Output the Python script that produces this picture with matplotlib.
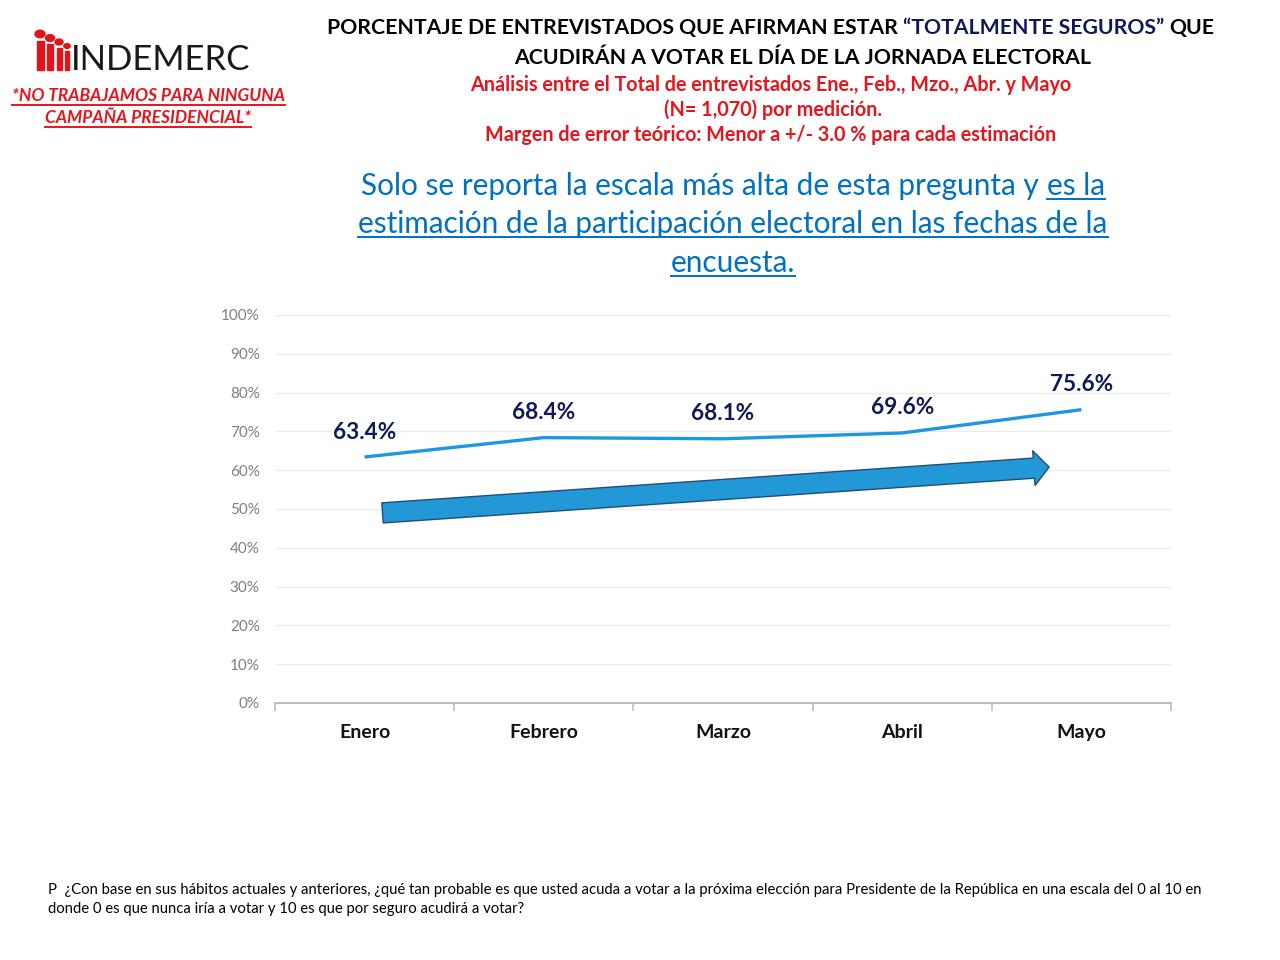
import matplotlib
matplotlib.use("Agg")
import matplotlib.pyplot as plt
from matplotlib.patches import FancyArrowPatch, Circle, Rectangle
from matplotlib.lines import Line2D

plt.rcParams['font.family'] = ['Lato', 'DejaVu Sans']

# ---------------- data ----------------
months = ["Enero", "Febrero", "Marzo", "Abril", "Mayo"]
values = [63.4, 68.4, 68.1, 69.6, 75.6]
labels = ["63.4%", "68.4%", "68.1%", "69.6%", "75.6%"]
yticks = [0, 10, 20, 30, 40, 50, 60, 70, 80, 90, 100]
ytick_labels = [f"{v}%" for v in yticks]
trend_start = (0.10, 49.0)
trend_end = (3.82, 60.8)

W, H = 1280, 960
fig = plt.figure(figsize=(12.8, 9.6), dpi=100)
fig.patch.set_facecolor("white")

NAVY = "#0d1a5a"
RED = "#e8141c"
BLUE_TXT = "#0070c0"
LINE_C = "#1f97dd"

def fx(x): return x / W
def fy(y): return 1 - y / H

# ---------------- axes ----------------
ax = fig.add_axes([fx(275), fy(703), (1171 - 275) / W, (703 - 315) / H])
x = list(range(len(months)))
ax.plot(x, values, color=LINE_C, lw=2.4, solid_capstyle="butt", zorder=3)
for xi, v, lab in zip(x, values, labels):
    ax.annotate(lab, (xi, v), xytext=(0, 18), textcoords="offset points",
                ha="center", va="center", fontsize=16.3, fontweight="bold",
                color=NAVY)
ax.set_xlim(-0.5, 4.5)
ax.set_ylim(0, 100)
ax.set_yticks(yticks)
ax.set_yticklabels(ytick_labels, color="#7f7f7f", fontsize=11)
ax.set_xticks(x)
ax.set_xticklabels(months, fontsize=14, fontweight="bold", color="#111111")
ax.set_xticks([i - 0.5 for i in range(len(months) + 1)], minor=True)
ax.tick_params(axis="y", length=0, pad=11)
ax.tick_params(axis="x", which="major", length=0, pad=15)
ax.tick_params(axis="x", which="minor", length=6, color="#bfbfbf", width=1.2)
ax.grid(axis="y", color="#ececec", lw=1)
ax.set_axisbelow(True)
for s in ["top", "right", "left"]:
    ax.spines[s].set_visible(False)
ax.spines["bottom"].set_color("#bfbfbf")
ax.spines["bottom"].set_linewidth(1.5)

arr = FancyArrowPatch(trend_start, trend_end,
                      arrowstyle="simple,tail_width=1.45,head_width=2.5,head_length=1.1",
                      mutation_scale=10, shrinkA=0, shrinkB=0,
                      facecolor="#2299d6", edgecolor="#1f4e79", lw=1.0, zorder=2)
ax.add_patch(arr)

# ---------------- text helpers ----------------
renderer = fig.canvas.get_renderer()

def width_of(s, **kw):
    t = fig.text(0, 0, s, **kw)
    w = t.get_window_extent(renderer).width
    t.remove()
    return w

def seg_line(segments, cx, y, **kw):
    """segments: list of (text, color, underline_flag). Centered at pixel cx, baseline y."""
    sp = width_of("a a", **kw) - width_of("aa", **kw)
    widths = [width_of(s, **kw) for s, _, _ in segments]
    total = sum(widths) + sp * (len(segments) - 1)
    xpos = cx - total / 2
    for (s, c, ul), w in zip(segments, widths):
        fig.text(fx(xpos), fy(y), s, color=c, ha="left", va="baseline", **kw)
        if ul:
            fig.add_artist(Line2D([fx(xpos), fx(xpos + w)], [fy(y + 4), fy(y + 4)],
                                  color=c, lw=1.4, transform=fig.transFigure))
        xpos += w + sp

# ---------------- titles ----------------
tkw = dict(fontsize=15.3, fontweight="bold")
seg_line([("PORCENTAJE DE ENTREVISTADOS QUE AFIRMAN ESTAR", "black", False),
          ("“TOTALMENTE SEGUROS”", NAVY, False),
          ("QUE", "black", False)], 771, 34, **tkw)
seg_line([("ACUDIRÁN A VOTAR EL DÍA DE LA JORNADA ELECTORAL", "black", False)], 803, 64, **tkw)

rkw = dict(fontsize=14.2, fontweight="bold")
seg_line([("Análisis entre el Total de entrevistados Ene., Feb., Mzo., Abr. y Mayo", RED, False)], 771, 91, **rkw)
seg_line([("(N= 1,070) por medición.", RED, False)], 773, 116, **rkw)
seg_line([("Margen de error teórico: Menor a +/- 3.0 % para cada estimación", RED, False)], 771, 141, **rkw)

bkw = dict(fontsize=21.4)
seg_line([("Solo se reporta la escala más alta de esta pregunta y", BLUE_TXT, False),
          ("es la", BLUE_TXT, True)], 733, 195, **bkw)
seg_line([("estimación de la participación electoral en las fechas de la", BLUE_TXT, True)], 733, 233, **bkw)
seg_line([("encuesta.", BLUE_TXT, True)], 733, 272, **bkw)

# ---------------- logo ----------------
fig.text(fx(71), fy(70), "INDEMERC", fontsize=25, fontweight="normal",
         color="#1a1a1a", ha="left", va="baseline")
# (x center, head y, head radius, body width)
people = [(40, 34, 5.0, 7.0), (50, 38, 4.5, 6.0), (59, 42, 4.0, 5.0), (67, 46, 3.2, 4.0)]
for px, hy, r, bw in people:
    fig.add_artist(Circle((fx(px), fy(hy)), r / W, transform=fig.transFigure,
                          color="#e0141c"))
    top = hy + r + 2
    fig.add_artist(Rectangle((fx(px - bw / 2), fy(70)), bw / W, (70 - top) / H,
                             transform=fig.transFigure, color="#e0141c"))

wkw = dict(fontsize=12.5, fontweight="bold", fontstyle="italic")
seg_line([("*NO TRABAJAMOS PARA NINGUNA", "#e8141c", True)], 148, 101, **wkw)
seg_line([("CAMPAÑA PRESIDENCIAL*", "#e8141c", True)], 148, 123, **wkw)

# ---------------- footnote ----------------
fig.text(fx(48), fy(894), "P  ¿Con base en sus hábitos actuales y anteriores, ¿qué tan probable es que usted acuda a votar a la próxima elección para Presidente de la República en una escala del 0 al 10 en",
         fontsize=10.7, color="black", ha="left", va="baseline")
fig.text(fx(48), fy(913), "donde 0 es que nunca iría a votar y 10 es que por seguro acudirá a votar?",
         fontsize=10.7, color="black", ha="left", va="baseline")

fig.savefig("out.png", dpi=100, facecolor="white")
